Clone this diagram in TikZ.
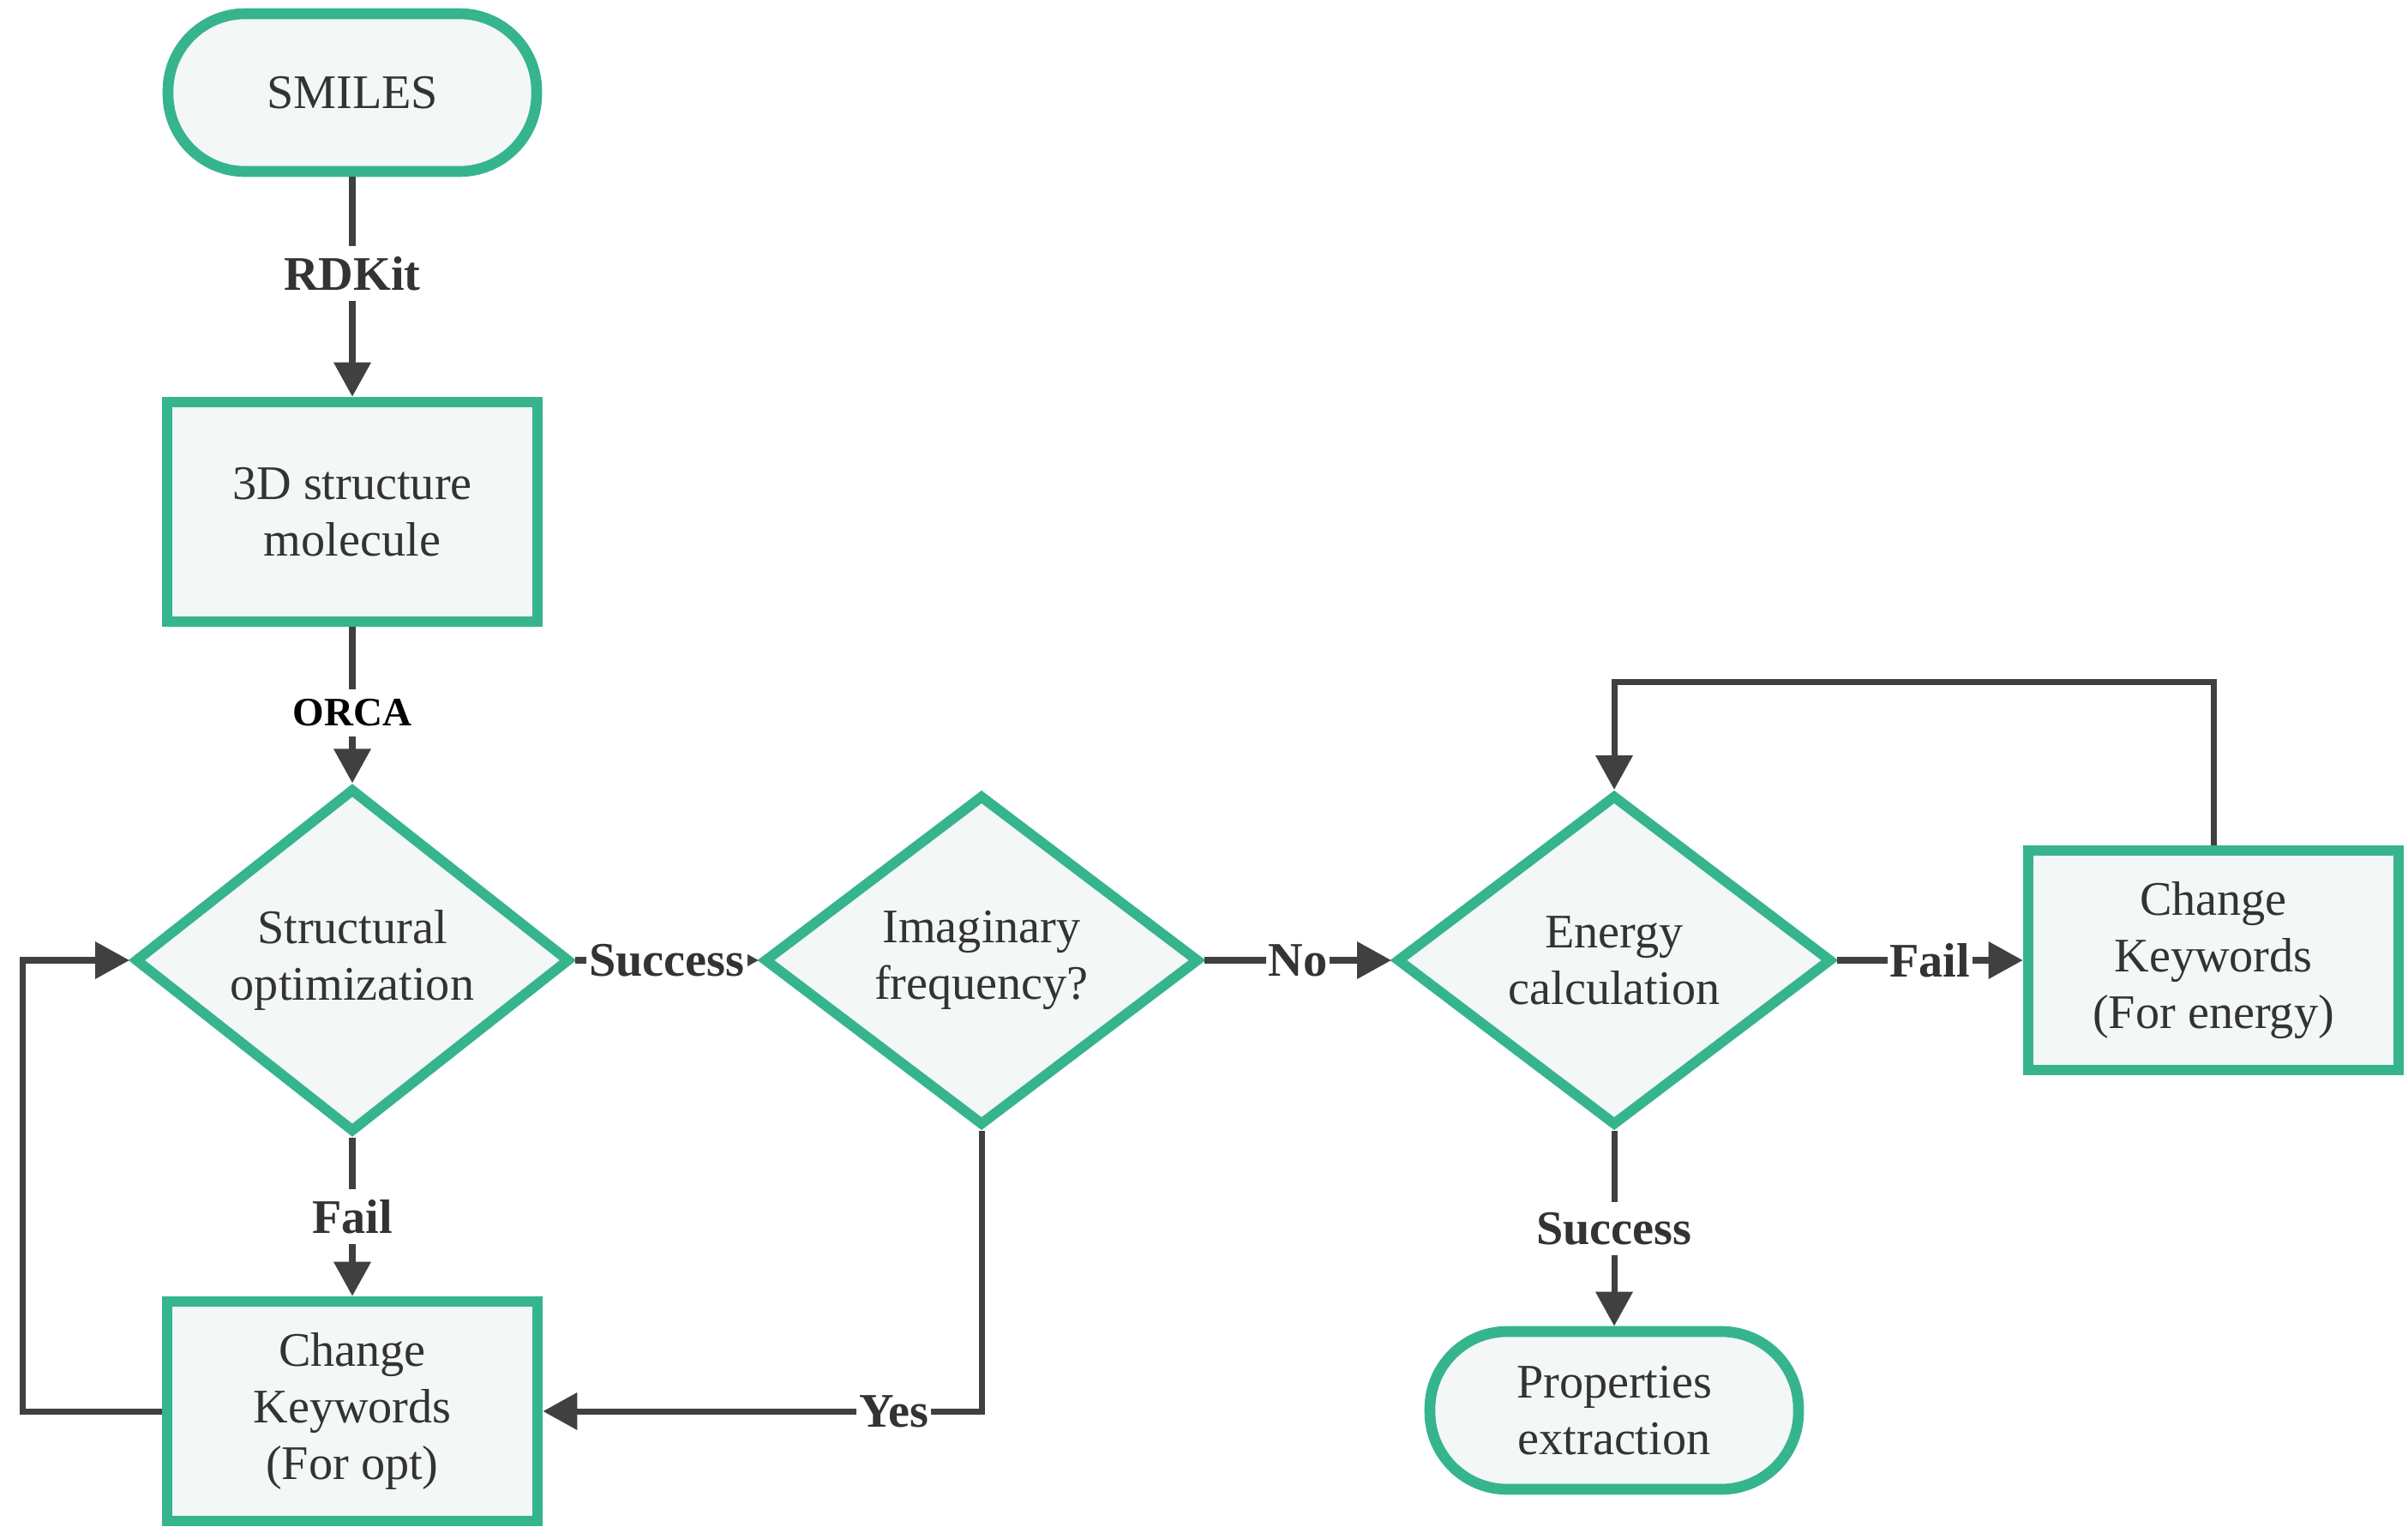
\documentclass[tikz,border=0pt]{standalone}
\usepackage{fontspec}
\setmainfont{Liberation Serif}
\usetikzlibrary{shapes.geometric, arrows.meta}
\definecolor{flowgreen}{HTML}{35B48E}
\definecolor{flowfill}{HTML}{F3F7F5}
\definecolor{flowline}{HTML}{404040}
\definecolor{flowtext}{HTML}{333333}

\begin{document}
\begin{tikzpicture}[
	every node/.style={font=\fontsize{16}{18.8}\selectfont, text=flowtext, align=center},
	terminal/.style={rectangle, rounded corners=0.9cm, draw=flowgreen, line width=3.6pt, fill=flowfill, minimum width=4.30cm, minimum height=1.84cm},
	process/.style={rectangle, draw=flowgreen, line width=3.6pt, fill=flowfill, minimum width=4.32cm, minimum height=2.56cm},
	decision/.style={diamond, draw=flowgreen, line width=3.4pt, fill=flowfill, minimum width=5.08cm, minimum height=3.86cm, inner sep=0pt},
	flow/.style={draw=flowline, line width=2pt, -{Triangle[length=0.4cm, width=0.42cm]}},
	lbl/.style={fill=white, inner xsep=0.03cm, inner ysep=0.12cm, font=\bfseries\fontsize{16}{18.8}\selectfont}
]
\useasboundingbox (0,0) rectangle (28.09,-17.87);

\node[terminal] (smiles) at (4.11,-1.08) {SMILES};
\node[process] (mol3d) at (4.11,-5.97) {3D structure\\molecule};
\node[decision] (opt) at (4.11,-11.20) {Structural\\optimization};
\node[decision] (imag) at (11.45,-11.20) {Imaginary\\frequency?};
\node[decision] (energy) at (18.83,-11.20) {Energy\\calculation};
\node[process] (chgen) at (25.82,-11.20) {Change\\Keywords\\(For energy)};
\node[process] (chgopt) at (4.11,-16.46) {Change\\Keywords\\(For opt)};
\node[terminal] (props) at (18.83,-16.45) {Properties\\extraction};

\foreach \u\v\t\p in {
smiles/mol3d/RDKit/0.44%
,opt/chgopt/Fail/0.5%
,opt/imag/Success/0.5%
,imag/energy/No/0.5%
,energy/chgen/Fail/0.5%
,energy/props/Success/0.5%
}{
	\draw[flow] (\u) -- node[lbl, pos=\p] {\t} (\v);
}

\draw[flow] (mol3d) -- node[lbl, pos=0.55, text=black, font=\bfseries\fontsize{13.4}{15}\selectfont] {ORCA} (opt);

% loops back
\draw[flow] (chgen.north) -- ++(0,1.9) -| (energy.north);
\draw[flow] (chgopt.west) -- ++(-1.62,0) |- (opt.west);
\draw[flow] (imag.south) |- node[lbl, pos=0.6] {Yes} (chgopt.east);

\end{tikzpicture}
\end{document}
